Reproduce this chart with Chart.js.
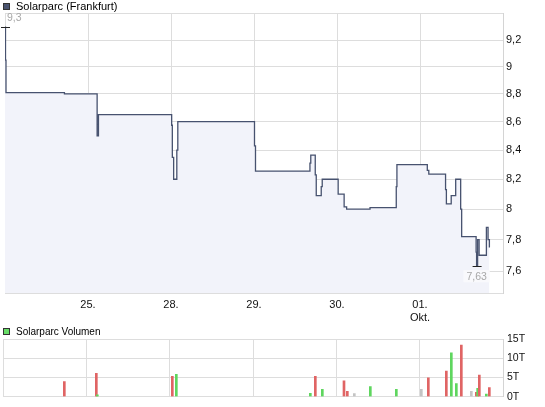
<!DOCTYPE html>
<html>
<head>
<meta charset="utf-8">
<script src="https://cdn.jsdelivr.net/npm/chart.js@4.4.1/dist/chart.umd.min.js"></script>
<style>
  body { margin: 0; background: #fff; }
  #wrap { position: relative; width: 545px; height: 407px; }
  canvas { position: absolute; left: 0; }
  #priceChart { top: 0; }
  #volChart { top: 325px; }
</style>
</head>
<body>
<div id="wrap">
  <canvas id="priceChart" width="545" height="325"></canvas>
  <canvas id="volChart" width="545" height="82"></canvas>
</div>
<script>
// x = trading days since 24.09. (0 = start of 24., 6 = end of 02.)
const dayLabels = ['', '25.', '28.', '29.', '30.', ['01.', 'Okt.'], ''];
const priceTicks = [7.6, 7.8, 8, 8.2, 8.4, 8.6, 8.8, 9, 9.2];
const volTicks = [0, 5000, 10000, 15000];

// Kurs (Frankfurt), each value holds until the next point
const priceX = [0.000, 0.006, 0.012, 0.716, 1.110, 1.126, 2.008, 2.016, 2.032, 2.070,
                2.082, 3.006, 3.018, 3.674, 3.684, 3.738, 3.750, 3.810, 3.822, 4.014,
                4.086, 4.116, 4.398, 4.714, 4.722, 5.088, 5.106, 5.308, 5.318, 5.376,
                5.430, 5.490, 5.502, 5.676, 5.682, 5.694, 5.712, 5.800, 5.820, 5.836];
const priceY = [9.30, 9.05, 8.81, 8.80, 8.50, 8.65, 8.575, 8.35, 8.20, 8.40,
                8.60, 8.43, 8.255, 8.31, 8.365, 8.23, 8.09, 8.15, 8.20, 8.10,
                8.015, 8.00, 8.01, 8.15, 8.30, 8.26, 8.235, 8.13, 8.035, 8.09,
                8.20, 8.00, 7.82, 7.72, 7.63, 7.80, 7.70, 7.88, 7.80, 7.75];

// Volumen (Stück)
const volX = [0.736, 1.120, 1.132, 2.032, 2.080, 3.688, 3.748, 3.832, 4.092, 4.132,
              4.216, 4.408, 4.720, 5.020, 5.104, 5.320, 5.380, 5.440, 5.500, 5.620,
              5.680, 5.696, 5.716, 5.800, 5.836];
const volY = [3900, 6100, 500, 5300, 5800, 900, 5300, 1900, 4150, 1400,
              800, 2600, 1900, 1900, 4900, 6650, 11400, 3400, 13400, 1400,
              1150, 2150, 5650, 650, 2400];
const volDir = ['d', 'd', 'u', 'd', 'u', 'u', 'd', 'u', 'd', 'd',
                'n', 'u', 'u', 'n', 'd', 'd', 'u', 'u', 'd', 'n',
                'd', 'u', 'd', 'u', 'd'];

const dirColors = { u: '#5fd65f', d: '#e06464', n: '#c4c4c4' };
const FONT = 'Liberation Sans';
const gridColor = '#dddddd';

function fmt(v) {
  return String(v).replace('.', ',');
}

// legend drawn as a small box + name in the top left corner
function legendPlugin(text, color, boxY, size) {
  return {
    id: 'ownLegend',
    afterDraw(chart) {
      const ctx = chart.ctx;
      ctx.save();
      ctx.fillStyle = color;
      ctx.fillRect(3, boxY, 7, 7);
      ctx.strokeStyle = '#333';
      ctx.lineWidth = 1;
      ctx.strokeRect(3.5, boxY + 0.5, 6, 6);
      ctx.fillStyle = '#000';
      ctx.font = size + 'px ' + FONT;
      ctx.textBaseline = 'middle';
      ctx.fillText(text, 16, boxY + 3.8);
      ctx.restore();
    }
  };
}

// high / low markers with value labels
const extremaPlugin = {
  id: 'extrema',
  afterDatasetsDraw(chart) {
    const ctx = chart.ctx;
    const xs = chart.scales.x, ys = chart.scales.y;
    const hi = Math.max(...priceY), lo = Math.min(...priceY);
    const hiX = xs.getPixelForValue(priceX[priceY.indexOf(hi)]);
    const loX = xs.getPixelForValue(priceX[priceY.indexOf(lo)]);
    const hiY = ys.getPixelForValue(hi), loY = ys.getPixelForValue(lo);
    ctx.save();
    ctx.strokeStyle = '#222';
    ctx.lineWidth = 1;
    ctx.beginPath();
    ctx.moveTo(hiX - 4, Math.round(hiY) + 0.5);
    ctx.lineTo(hiX + 5, Math.round(hiY) + 0.5);
    ctx.moveTo(loX - 4, Math.round(loY) + 0.5);
    ctx.lineTo(loX + 5, Math.round(loY) + 0.5);
    ctx.stroke();
    ctx.font = '10.5px ' + FONT;
    ctx.textBaseline = 'middle';
    ctx.fillStyle = '#a8a8a8';
    ctx.textAlign = 'left';
    ctx.fillText(fmt(hi), hiX + 2, hiY - 9);
    const loTxt = fmt(lo);
    const w = ctx.measureText(loTxt).width;
    ctx.fillStyle = 'rgba(250,250,252,0.9)';
    ctx.fillRect(loX - w / 2 - 3, loY + 4, w + 6, 12);
    ctx.fillStyle = '#a8a8a8';
    ctx.textAlign = 'center';
    ctx.fillText(loTxt, loX, loY + 10.5);
    ctx.restore();
  }
};

const dayTicks = dayLabels.map((_, i) => ({ value: i }));

new Chart(document.getElementById('priceChart'), {
  type: 'line',
  data: {
    datasets: [{
      data: priceX.map((x, i) => ({ x: x, y: priceY[i] })),
      stepped: 'before',
      borderColor: '#47526f',
      borderWidth: 1.3,
      backgroundColor: '#f2f3fa',
      fill: 'start',
      pointRadius: 0
    }]
  },
  options: {
    responsive: false,
    animation: false,
    layout: { padding: { top: 13, left: 3, right: 0, bottom: 0 } },
    plugins: { legend: { display: false }, tooltip: { enabled: false } },
    scales: {
      x: {
        type: 'linear',
        min: 0,
        max: 6,
        afterBuildTicks: s => { s.ticks = dayTicks.map(t => ({ ...t })); },
        afterFit: s => { s.height = 32; },
        grid: { color: gridColor, drawTicks: false },
        border: { color: gridColor },
        ticks: {
          autoSkip: false,
          maxRotation: 0,
          padding: 5,
          color: '#111',
          font: { family: FONT, size: 11 },
          callback: (v, i) => dayLabels[i]
        }
      },
      y: {
        type: 'logarithmic',
        position: 'right',
        bounds: 'data',
        min: 7.463,
        max: 9.41,
        afterBuildTicks: s => {
          s.ticks = [s.min, ...priceTicks, s.max].map(v => ({ value: v }));
        },
        afterFit: s => { s.width = 42; },
        grid: { color: gridColor, drawTicks: false },
        border: { color: '#d4d4d4' },
        ticks: {
          autoSkip: false,
          padding: 3,
          color: '#111',
          font: { family: FONT, size: 11 },
          callback: (v, i, arr) => (i === 0 || i === arr.length - 1) ? '' : fmt(v)
        }
      }
    }
  },
  plugins: [legendPlugin('Solarparc (Frankfurt)', '#4a5470', 3, 11), extremaPlugin]
});

new Chart(document.getElementById('volChart'), {
  type: 'bar',
  data: {
    datasets: [{
      data: volX.map((x, i) => ({ x: x, y: volY[i] })),
      backgroundColor: volDir.map(d => dirColors[d]),
      barThickness: 2
    }]
  },
  options: {
    responsive: false,
    animation: false,
    layout: { padding: { top: 14, left: 3, right: 0, bottom: 0 } },
    plugins: { legend: { display: false }, tooltip: { enabled: false } },
    scales: {
      x: {
        type: 'linear',
        min: 0,
        max: 6,
        offset: false,
        afterBuildTicks: s => { s.ticks = dayTicks.map(t => ({ ...t })); },
        afterFit: s => { s.height = 9; },
        grid: { color: gridColor, drawTicks: false, offset: false },
        border: { color: gridColor },
        ticks: { display: false }
      },
      y: {
        position: 'right',
        min: 0,
        max: 15000,
        afterBuildTicks: s => { s.ticks = volTicks.map(v => ({ value: v })); },
        afterFit: s => { s.width = 42; },
        grid: { color: gridColor, drawTicks: false },
        border: { color: '#d4d4d4' },
        ticks: {
          padding: 4,
          color: '#111',
          font: { family: FONT, size: 10.5 },
          callback: v => (v / 1000) + 'T'
        }
      }
    }
  },
  plugins: [legendPlugin('Solarparc Volumen', '#66dd66', 3, 10)]
});
</script>
</body>
</html>
